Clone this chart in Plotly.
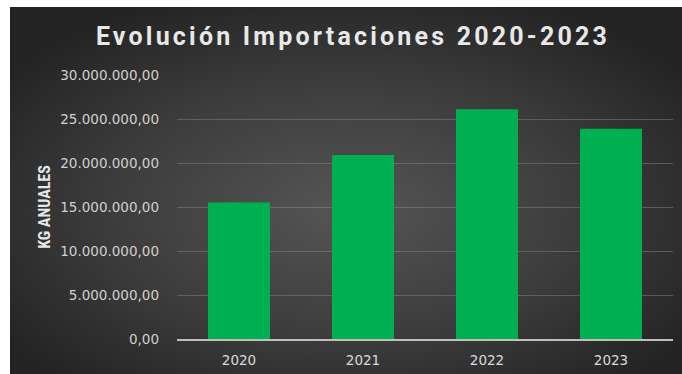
import base64
import plotly.graph_objects as go

# Annual imports (kg)
years = ["2020", "2021", "2022", "2023"]
kg_anuales = [15_500_000, 20_900_000, 26_100_000, 23_900_000]
tick_values = [0, 5_000_000, 10_000_000, 15_000_000, 20_000_000, 25_000_000, 30_000_000]
tick_labels = ["0,00", "5.000.000,00", "10.000.000,00", "15.000.000,00",
               "20.000.000,00", "25.000.000,00", "30.000.000,00"]

W, H = 682, 374
L, R, T, B = 177, 9, 75, 35
PW, PH = W - L - R, H - T - B

def px_to_paper_x(px):
    return (px - L) / PW

def px_to_paper_y(py):
    return (H - B - py) / PH

# radial gradient backdrop as an inline SVG
svg = (
    '<svg xmlns="http://www.w3.org/2000/svg" width="672" height="367" preserveAspectRatio="none">'
    '<defs><radialGradient id="g" cx="50%" cy="55%" r="62%">'
    '<stop offset="0%" stop-color="#555555"/>'
    '<stop offset="55%" stop-color="#3d3d3d"/>'
    '<stop offset="100%" stop-color="#242424"/>'
    '</radialGradient></defs>'
    '<rect width="672" height="367" fill="url(#g)"/></svg>'
)
bg_src = "data:image/svg+xml;base64," + base64.b64encode(svg.encode()).decode()

fig = go.Figure(
    go.Bar(
        x=years,
        y=kg_anuales,
        marker=dict(color="#00B050", line=dict(width=0)),
    )
)

fig.update_layout(
    width=W,
    height=H,
    margin=dict(l=L, r=R, t=T, b=B),
    paper_bgcolor="white",
    plot_bgcolor="rgba(0,0,0,0)",
    bargap=0.5,
    showlegend=False,
    title=dict(
        text='<span style="letter-spacing:3.2px">Evolución Importaciones 2020-2023</span>',
        x=353 / W,
        xanchor="center",
        y=1 - 36 / H,
        yanchor="middle",
        font=dict(family="Roboto", size=25, color="#e8e8e8", weight="bold"),
    ),
    images=[dict(
        source=bg_src,
        xref="paper", yref="paper",
        x=px_to_paper_x(10), y=px_to_paper_y(7),
        sizex=px_to_paper_x(W) - px_to_paper_x(10),
        sizey=px_to_paper_y(7) - px_to_paper_y(H),
        xanchor="left", yanchor="top",
        sizing="stretch",
        layer="below",
    )],
    xaxis=dict(
        automargin=False,
        showgrid=False,
        showline=True,
        linecolor="#bfbfbf",
        linewidth=1.5,
        ticks="",
        ticklabelstandoff=8,
        tickfont=dict(family="DejaVu Sans", size=13.5, color="#d9d9d9"),
        fixedrange=True,
    ),
    yaxis=dict(
        automargin=False,
        range=[0, 30_000_000],
        tickvals=tick_values,
        ticktext=tick_labels,
        showgrid=True,
        gridcolor="rgba(140,140,140,0.45)",
        gridwidth=1,
        zeroline=False,
        showline=False,
        ticks="",
        ticklabelstandoff=17,
        tickfont=dict(family="DejaVu Sans", size=13.5, color="#d0d0d0"),
        title=dict(
            text="KG ANUALES",
            standoff=5,
            font=dict(family="Liberation Sans Narrow, Roboto Condensed, Roboto",
                      size=16, color="#e6e6e6", weight="bold"),
        ),
        fixedrange=True,
    ),
)

fig.write_html("out.html")
